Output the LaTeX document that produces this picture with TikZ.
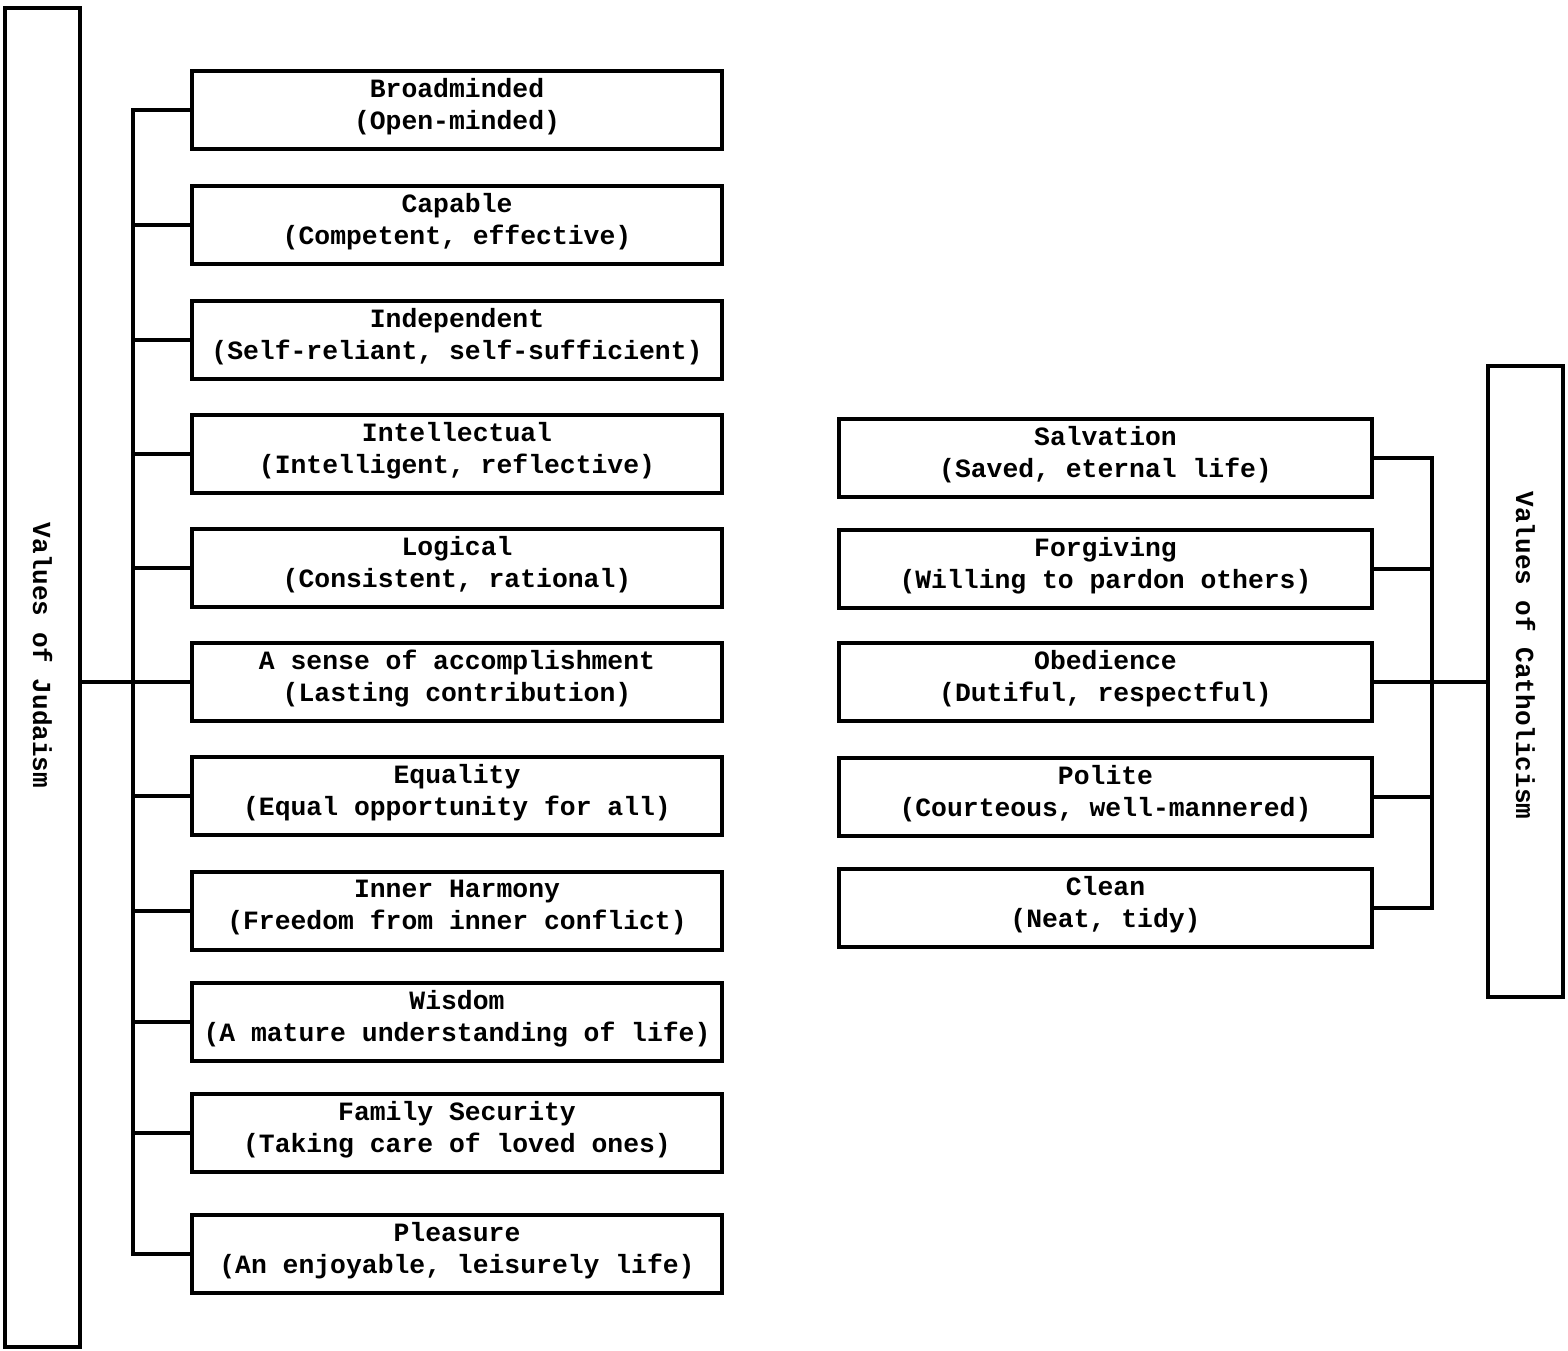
\documentclass[tikz,border=0pt]{standalone}
\usepackage{fontspec}
\setmainfont{Liberation Mono}
\begin{document}
\begin{tikzpicture}[x=0.5pt,y=-0.5pt,
  line width=2pt,
  valbox/.style={draw, line width=2pt, rectangle, inner sep=0pt,
    minimum width=265pt, minimum height=39pt, align=center,
    text depth=6pt,
    font=\fontsize{13.2}{16}\selectfont\bfseries},
  rightbox/.style={valbox, minimum width=266.5pt},
  groupbox/.style={draw, line width=2pt, rectangle, inner sep=0pt,
    minimum width=37.5pt, font=\fontsize{13}{16}\selectfont\bfseries},
  link/.style={line width=2pt, line cap=rect}]
\useasboundingbox (0,0) rectangle (1568,1350);

% group boxes with vertical titles
\node[groupbox, minimum height=669.5pt] (judaism) at (42.5,677.5)
  {\rotatebox{-90}{Values of Judaism\hspace*{22pt}}};
\node[groupbox, minimum height=315.5pt] (catholicism) at (1525.5,681.5)
  {\rotatebox{-90}{Values of Catholicism\hspace*{26pt}}};

% values of Judaism
\node[valbox] (j1)  at (457,110)  {Broadminded\\(Open-minded)};
\node[valbox] (j2)  at (457,225)  {Capable\\(Competent, effective)};
\node[valbox] (j3)  at (457,340)  {Independent\\(Self-reliant, self-sufficient)};
\node[valbox] (j4)  at (457,454)  {Intellectual\\(Intelligent, reflective)};
\node[valbox] (j5)  at (457,568)  {Logical\\(Consistent, rational)};
\node[valbox] (j6)  at (457,682)  {A sense of accomplishment\\(Lasting contribution)};
\node[valbox] (j7)  at (457,796)  {Equality\\(Equal opportunity for all)};
\node[valbox] (j8)  at (457,911)  {Inner Harmony\\(Freedom from inner conflict)};
\node[valbox] (j9)  at (457,1022) {Wisdom\\(A mature understanding of life)};
\node[valbox] (j10) at (457,1133) {Family Security\\(Taking care of loved ones)};
\node[valbox] (j11) at (457,1254) {Pleasure\\(An enjoyable, leisurely life)};

% values of Catholicism
\node[rightbox] (c1) at (1105.5,458) {Salvation\\(Saved, eternal life)};
\node[rightbox] (c2) at (1105.5,569) {Forgiving\\(Willing to pardon others)};
\node[rightbox] (c3) at (1105.5,682) {Obedience\\(Dutiful, respectful)};
\node[rightbox] (c4) at (1105.5,797) {Polite\\(Courteous, well-mannered)};
\node[rightbox] (c5) at (1105.5,908) {Clean\\(Neat, tidy)};

% Judaism bracket
\draw[link] (j1.west) -- ++(-57,0) |- (j11.west);
\foreach \k in {2,...,10} \draw[link] (j\k.west) -- ++(-57,0);
\draw[link] (judaism.east |- j6.west) -- (j6.west);

% Catholicism bracket
\draw[link] (c1.east) -- ++(58,0) |- (c5.east);
\foreach \k in {2,3,4} \draw[link] (c\k.east) -- ++(58,0);
\draw[link] (c3.east) -- (catholicism.west |- c3.east);
\end{tikzpicture}
\end{document}
